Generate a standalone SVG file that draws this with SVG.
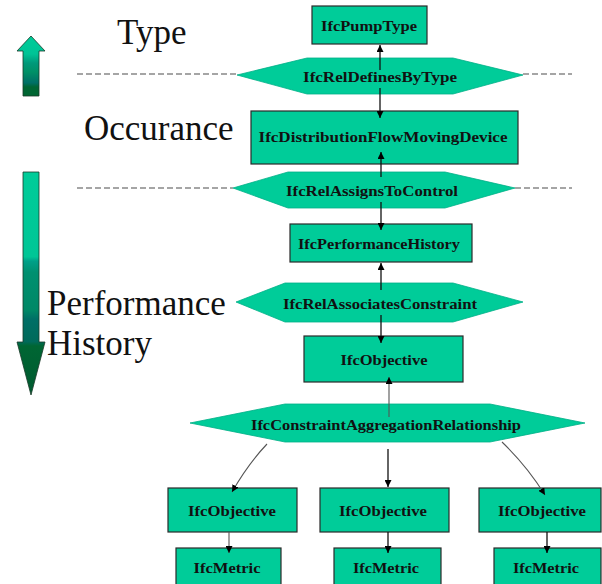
<svg xmlns="http://www.w3.org/2000/svg" width="602" height="584" viewBox="0 0 602 584">
<style>
.box{fill:#00CC99;stroke:#2a2a2a;stroke-width:1.2}
.hex{fill:#00CC99;stroke:#00b088;stroke-width:0.8}
.lbl{font-family:"Liberation Serif",serif;font-size:15px;font-weight:bold;fill:#111;text-anchor:middle}
.big{font-family:"Liberation Serif",serif;font-size:35px;fill:#111}
.dash{stroke:#888;stroke-width:1.3;stroke-dasharray:6 3;fill:none}
.con{stroke:#111;stroke-width:1.3;fill:none;marker-end:url(#ah)}
.con2{stroke:#555;stroke-width:1.1;fill:none;marker-end:url(#ah)}
</style>
<defs>
<marker id="ah" viewBox="0 0 10 10" refX="10" refY="5" markerWidth="7" markerHeight="7" markerUnits="userSpaceOnUse" orient="auto">
<path d="M0,0 L10,5 L0,10 z" fill="#000"/>
</marker>
<linearGradient id="gUp" x1="0" y1="36" x2="0" y2="96" gradientUnits="userSpaceOnUse">
<stop offset="0" stop-color="#00CC99"/>
<stop offset="0.3" stop-color="#00C496"/>
<stop offset="0.45" stop-color="#00997a"/>
<stop offset="0.6" stop-color="#009066"/>
<stop offset="0.78" stop-color="#006f66"/>
<stop offset="0.85" stop-color="#006633"/>
<stop offset="1" stop-color="#006633"/>
</linearGradient>
<linearGradient id="gDn" x1="0" y1="172" x2="0" y2="395" gradientUnits="userSpaceOnUse">
<stop offset="0" stop-color="#00CC99"/>
<stop offset="0.38" stop-color="#00C696"/>
<stop offset="0.4" stop-color="#00a088"/>
<stop offset="0.45" stop-color="#009070"/>
<stop offset="0.62" stop-color="#008866"/>
<stop offset="0.66" stop-color="#006f66"/>
<stop offset="0.76" stop-color="#006a5a"/>
<stop offset="0.78" stop-color="#006633"/>
<stop offset="1" stop-color="#005a30"/>
</linearGradient>
</defs>
<rect width="602" height="584" fill="#fff"/>

<g id="legend">
<path d="M23,96 L23,51 L17,51 L31,36 L45,51 L39,51 L39,96 Z" fill="url(#gUp)" stroke="#1a3a2a" stroke-width="0.8"/>
<path d="M23,172 L39,172 L39,342 L45,342 L31,395 L17,342 L23,342 Z" fill="url(#gDn)" stroke="#1a3a2a" stroke-width="0.8"/>
<text class="big" x="117" y="44">Type</text>
<text class="big" x="84" y="140">Occurance</text>
<text class="big" x="47" y="315">Performance</text>
<text class="big" x="47" y="355">History</text>
<line class="dash" x1="77" y1="74" x2="237" y2="74"/>
<line class="dash" x1="523" y1="74" x2="572" y2="74"/>
<line class="dash" x1="77" y1="188" x2="233" y2="188"/>
<line class="dash" x1="515" y1="188" x2="572" y2="188"/>
</g>

<g id="IfcPumpType">
<rect class="box" x="312" y="6" width="115" height="38"/>
<text class="lbl" x="369" y="31" textLength="96" lengthAdjust="spacingAndGlyphs">IfcPumpType</text>
</g>
<g id="IfcRelDefinesByType">
<polygon class="hex" points="237,75 307,58 453,58 523,75 453,94 307,94"/>
<text class="lbl" x="380" y="82" textLength="154" lengthAdjust="spacingAndGlyphs">IfcRelDefinesByType</text>
</g>
<g id="IfcDistributionFlowMovingDevice">
<rect class="box" x="251" y="111" width="267" height="53"/>
<text class="lbl" x="383" y="142" textLength="249" lengthAdjust="spacingAndGlyphs">IfcDistributionFlowMovingDevice</text>
</g>
<g id="IfcRelAssignsToControl">
<polygon class="hex" points="233,188 288,172 445,172 515,188 445,208 288,208"/>
<text class="lbl" x="372" y="196" textLength="172" lengthAdjust="spacingAndGlyphs">IfcRelAssignsToControl</text>
</g>
<g id="IfcPerformanceHistory">
<rect class="box" x="290" y="224" width="182" height="38"/>
<text class="lbl" x="379" y="249" textLength="162" lengthAdjust="spacingAndGlyphs">IfcPerformanceHistory</text>
</g>
<g id="IfcRelAssociatesConstraint">
<polygon class="hex" points="236,302 285,283 453,283 523,302 453,322 285,322"/>
<text class="lbl" x="380" y="309" textLength="194" lengthAdjust="spacingAndGlyphs">IfcRelAssociatesConstraint</text>
</g>
<g id="IfcObjective">
<rect class="box" x="304" y="336" width="159" height="46"/>
<text class="lbl" x="384" y="365" textLength="87" lengthAdjust="spacingAndGlyphs">IfcObjective</text>
</g>
<g id="IfcConstraintAggregationRelationship">
<polygon class="hex" points="190,423 285,404 490,404 585,423 490,442 285,442"/>
<text class="lbl" x="386" y="430" textLength="270" lengthAdjust="spacingAndGlyphs">IfcConstraintAggregationRelationship</text>
</g>
<g id="IfcObjective1">
<rect class="box" x="168" y="488" width="129" height="44"/>
<text class="lbl" x="232" y="516" textLength="88" lengthAdjust="spacingAndGlyphs">IfcObjective</text>
</g>
<g id="IfcObjective2">
<rect class="box" x="320" y="488" width="129" height="44"/>
<text class="lbl" x="383" y="516" textLength="88" lengthAdjust="spacingAndGlyphs">IfcObjective</text>
</g>
<g id="IfcObjective3">
<rect class="box" x="479" y="488" width="122" height="44"/>
<text class="lbl" x="542" y="516" textLength="88" lengthAdjust="spacingAndGlyphs">IfcObjective</text>
</g>
<g id="IfcMetric1">
<rect class="box" x="176" y="548" width="105" height="40"/>
<text class="lbl" x="227" y="573" textLength="67" lengthAdjust="spacingAndGlyphs">IfcMetric</text>
</g>
<g id="IfcMetric2">
<rect class="box" x="334" y="548" width="107" height="40"/>
<text class="lbl" x="386" y="573" textLength="66" lengthAdjust="spacingAndGlyphs">IfcMetric</text>
</g>
<g id="IfcMetric3">
<rect class="box" x="494" y="548" width="107" height="40"/>
<text class="lbl" x="546" y="573" textLength="66" lengthAdjust="spacingAndGlyphs">IfcMetric</text>
</g>

<g id="connectors">
<line class="con" x1="380" y1="70" x2="380" y2="45"/>
<line class="con" x1="380" y1="88" x2="380" y2="118"/>
<line class="con" x1="381" y1="177" x2="381" y2="152"/>
<line class="con" x1="381" y1="202" x2="381" y2="230"/>
<line class="con" x1="381" y1="290" x2="381" y2="263"/>
<line class="con" x1="381" y1="315" x2="381" y2="343"/>
<line class="con2" x1="389" y1="417" x2="389" y2="377"/>
<path class="con2" d="M267,444 Q248,464 232,492"/>
<line class="con" x1="388" y1="449" x2="388" y2="487"/>
<path class="con2" d="M502,442 Q527,466 545,495"/>
<line class="con2" x1="229" y1="532" x2="229" y2="553"/>
<line class="con" x1="388" y1="532" x2="388" y2="553"/>
<line class="con" x1="547" y1="532" x2="547" y2="553"/>
</g>
</svg>
